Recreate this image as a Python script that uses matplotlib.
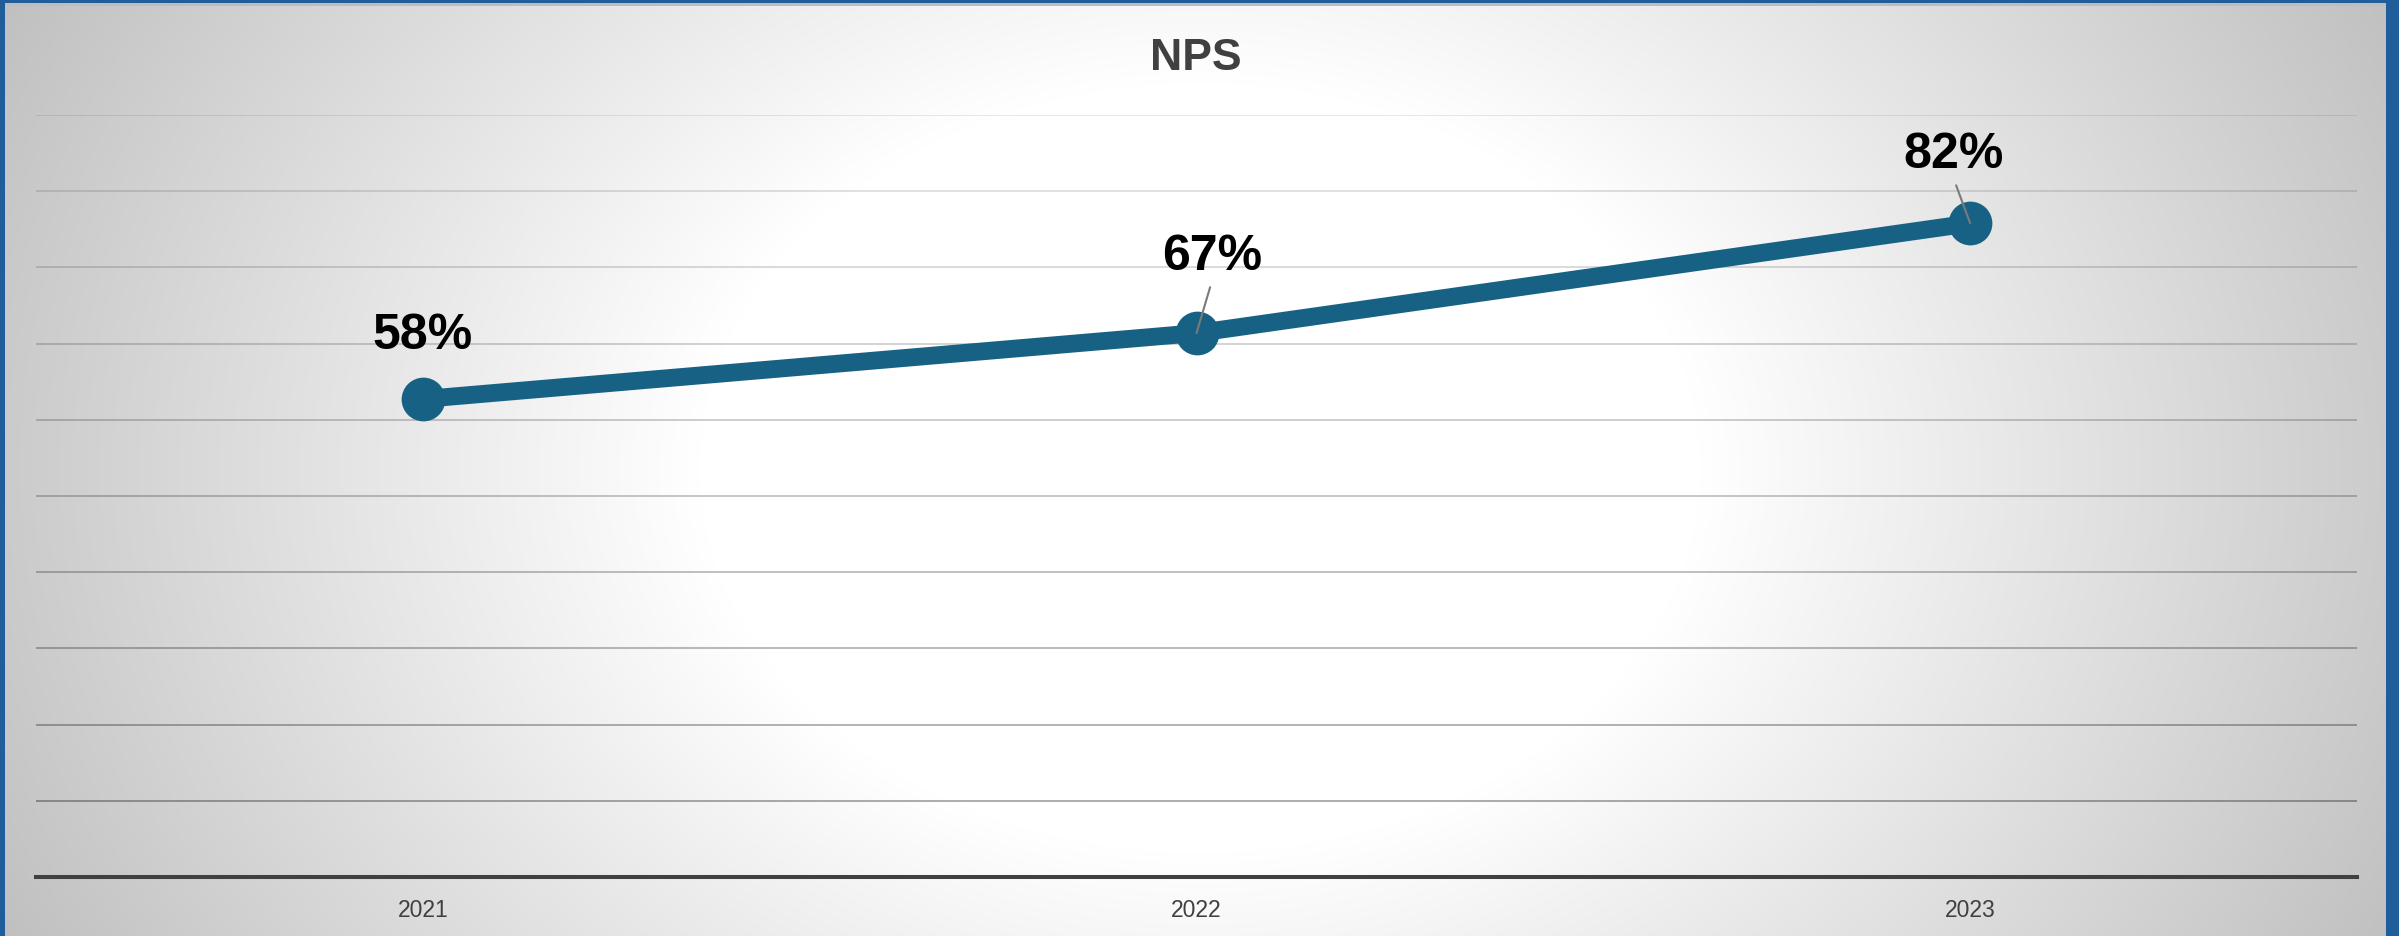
import numpy as np
import matplotlib
matplotlib.use("Agg")
import matplotlib.pyplot as plt
from matplotlib.patches import Rectangle

plt.rcParams['font.family'] = ['Liberation Sans', 'DejaVu Sans']

# data
years = ["2021", "2022", "2023"]
nps = [58, 67, 82]
nps_labels = ["58%", "67%", "82%"]

# layout of the value labels (pixel offsets of the text baseline from the point, leader on/off)
label_offsets = [(0, 51), (16, 64), (-17, 56)]
label_leaders = [False, True, True]

W, H, DPI = 2399, 937, 100
LINE_COLOR = "#176284"
TEXT_GREY = "#404040"
BORDER_BLUE = "#1f5d9b"

fig = plt.figure(figsize=(W / DPI, H / DPI), dpi=DPI)

# radial grey-to-white background
bg = fig.add_axes([0, 0, 1, 1], zorder=-10)
yy, xx = np.mgrid[0:H, 0:W]
r = np.hypot(xx - W / 2, (yy - H / 2) * 1.3)
t = np.clip((r - 500) / (1350 - 500), 0, 1)
shade = 1 - 0.25 * t
bg.imshow(np.dstack([shade, shade, shade]), aspect="auto", extent=(0, 1, 0, 1),
          interpolation="bilinear")
bg.set_axis_off()

# frame around the chart (left, top, right)
for x0, y0, w, h in [(0, 0, 5, H), (0, H - 4, W, 4), (W - 13, 0, 13, H)]:
    fig.patches.append(Rectangle((x0 / W, y0 / H), w / W, h / H, transform=fig.transFigure,
                                 facecolor=BORDER_BLUE, edgecolor="none", zorder=5))
fig.patches.append(Rectangle((5 / W, (H - 7) / H), (W - 18) / W, 3 / H, transform=fig.transFigure,
                             facecolor="#bdbdbd", edgecolor="none", zorder=4))

left, right = 36 / W, 2357 / W
bottom, top = (H - 878) / H, (H - 116) / H
ax = fig.add_axes([left, bottom, right - left, top - bottom])
ax.set_facecolor("none")

y_min, y_max = -7.3, 96.8
ax.set_ylim(y_min, y_max)
ax.set_xlim(-0.5, len(years) - 0.5)

# horizontal gridlines, a little darker towards the bottom
grid_levels = np.linspace(y_min, y_max, 11)[1:]
grid_alpha = np.linspace(0.38, 0.11, len(grid_levels))
for lvl, a in zip(grid_levels, grid_alpha):
    ax.axhline(lvl, color="black", alpha=a, lw=1.2, zorder=1)

x = np.arange(len(years))
ax.plot(x, nps, color=LINE_COLOR, lw=12.8, marker="o", ms=31.5,
        markeredgewidth=0, zorder=3, clip_on=False, solid_joinstyle="round")

for xi, v, lab, (dx, dy), leader in zip(x, nps, nps_labels, label_offsets, label_leaders):
    arrow = None
    if leader:
        arrow = dict(arrowstyle="-", color="#7a7a7a", lw=1.5, shrinkA=4, shrinkB=0,
                     relpos=(0.5, 0.0))
    ax.annotate(lab, xy=(xi, v), xytext=(dx, dy), textcoords="offset pixels",
                ha="center", va="baseline", fontsize=36, fontweight="bold",
                color="black", arrowprops=arrow, zorder=4, annotation_clip=False)

for side in ["left", "right", "top"]:
    ax.spines[side].set_visible(False)
ax.spines["bottom"].set_color(TEXT_GREY)
ax.spines["bottom"].set_linewidth(2.9)
ax.spines["bottom"].set_zorder(2)
ax.set_yticks([])
ax.set_xticks(x)
ax.set_xticklabels(years)
ax.tick_params(axis="x", length=0, pad=15, labelsize=16.5, labelcolor=TEXT_GREY)

fig.text(1196 / W, 1 - 58 / H, "NPS", ha="center", va="center", fontsize=32,
         fontweight="bold", color=TEXT_GREY)

fig.savefig("out.png", dpi=DPI)
